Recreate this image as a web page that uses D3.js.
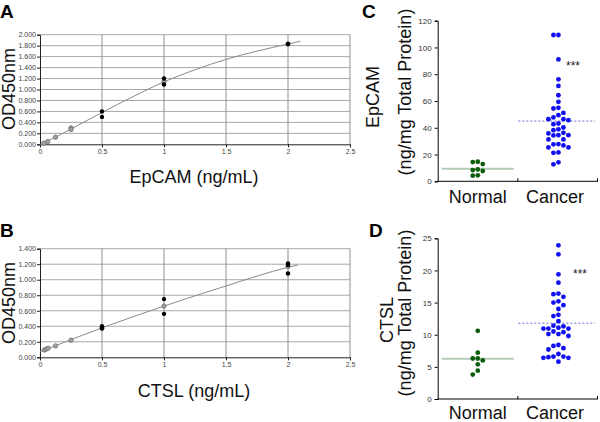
<!DOCTYPE html>
<html><head><meta charset="utf-8">
<script src="https://cdn.jsdelivr.net/npm/d3@7"></script>
<style>
html,body{margin:0;padding:0;background:#fff;}
svg{display:block;font-family:"Liberation Sans",Arial,sans-serif;}
svg text{font-family:"Liberation Sans",Arial,sans-serif;}
</style></head>
<body>
<svg id="chart" width="600" height="422"></svg>
<script>
// ---------------- DATA ----------------
// Panel A: EpCAM standard curve
const epcamTicksX = [0, 0.5, 1, 1.5, 2, 2.5];
const epcamTicksY = [0, 0.2, 0.4, 0.6, 0.8, 1.0, 1.2, 1.4, 1.6, 1.8, 2.0];
const epcamRepConc = [0.5, 0.5, 1, 1, 2];
const epcamRepOD   = [0.60, 0.50, 1.20, 1.09, 1.83];
const epcamStdConc = [0.03, 0.0625, 0.125, 0.25, 0.25, 1, 2];
const epcamStdOD   = [0.02, 0.05, 0.13, 0.30, 0.27, 1.14, 1.83];
const epcamFitConc = [0, 0.125, 0.25, 0.5, 0.75, 1, 1.25, 1.5, 1.75, 2, 2.1];
const epcamFitOD   = [0, 0.13, 0.28, 0.58, 0.87, 1.14, 1.36, 1.55, 1.70, 1.83, 1.88];

// Panel B: CTSL standard curve
const ctslTicksX = [0, 0.5, 1, 1.5, 2, 2.5];
const ctslTicksY = [0, 0.2, 0.4, 0.6, 0.8, 1.0, 1.2, 1.4];
const ctslRepConc = [0.5, 0.5, 1, 1, 2, 2, 2];
const ctslRepOD   = [0.40, 0.37, 0.75, 0.56, 1.21, 1.19, 1.08];
const ctslStdConc = [0.035, 0.05, 0.065, 0.125, 0.25, 0.5, 1, 2];
const ctslStdOD   = [0.095, 0.105, 0.117, 0.147, 0.22, 0.38, 0.66, 1.17];
const ctslFitConc = [0, 0.5, 1, 1.5, 2, 2.08];
const ctslFitOD   = [0.07, 0.38, 0.66, 0.92, 1.16, 1.19];

// Panel C: EpCAM tissue levels
const groups = ["Normal", "Cancer"];
const epcamNormal = [14.6, 14.4, 12.9, 8.4, 8.9, 7.7, 4.5, 4.2];
const epcamCancer = [109.3, 109.3, 91.1, 76.2, 71.3, 64.3, 59.4, 54.4, 54.9, 51.1,
  47.7, 49.4, 45.7, 46.4, 46.4, 42.7, 43.2, 38.8, 38.2, 40.2, 35.8, 36.2,
  34.5, 34.3, 34.5, 31.3, 31.3, 27.6, 26.8, 27.8, 25.3, 25.3, 21.3, 21.6, 14.2, 12.7];
const epcamTicks = [0, 20, 40, 60, 80, 100, 120];

// Panel D: CTSL tissue levels
const ctslNormal = [10.6, 7.2, 6.3, 6.0, 6.3, 5.4, 4.4, 3.8];
const ctslCancer = [23.9, 22.5, 19.4, 18.1, 16.4, 16.3, 15.9, 15.2, 15.0, 14.6, 14.0,
  13.1, 12.9, 12.1, 11.4, 11.3, 11.1, 10.95, 10.95, 10.95, 10.4, 10.5, 10.1, 10.1, 9.8,
  8.25, 8.4, 7.9, 7.7, 7.0, 6.5, 6.4, 6.6, 6.4, 6.6, 5.8];
const ctslTicks = [0, 5, 10, 15, 20, 25];

// ---------------- DRAW ----------------
const FONT = "'Liberation Sans',Arial,sans-serif";
const svg = d3.select("#chart");
const fmt3 = d3.format(".3f");
const fmtX = d => d3.format("")(d);

function letter(t, x, y) {
  svg.append("text").attr("x", x).attr("y", y).attr("font-size", 19)
    .attr("font-family", FONT).attr("font-weight", "bold").attr("fill", "#000").text(t);
}

function stdCurve(opt) {
  const x = d3.scaleLinear().domain([0, 2.5]).range([40, 350]);
  const y = d3.scaleLinear().domain([0, opt.ymax]).range([opt.y0, opt.y1]);
  const g = svg.append("g");
  g.selectAll(".hg").data(opt.ticksY.filter(d => d > 0)).join("line")
    .attr("x1", x(0)).attr("x2", x(2.5)).attr("y1", d => y(d)).attr("y2", d => y(d))
    .attr("stroke", "#a8a8a8").attr("stroke-width", 1);
  g.selectAll(".vg").data(opt.ticksX.filter(d => d > 0)).join("line")
    .attr("x1", d => x(d)).attr("x2", d => x(d)).attr("y1", y(0)).attr("y2", y(opt.ymax))
    .attr("stroke", "#909090").attr("stroke-width", 1);
  const ax = g.append("g").attr("transform", `translate(0,${y(0)})`)
    .call(d3.axisBottom(x).tickValues(opt.ticksX).tickFormat(fmtX).tickSize(3).tickPadding(2));
  const ay = g.append("g").attr("transform", `translate(${x(0)},0)`)
    .call(d3.axisLeft(y).tickValues(opt.ticksY).tickFormat(fmt3).tickSize(3).tickPadding(1));
  [ax, ay].forEach(a => {
    a.select(".domain").attr("stroke", "#222");
    a.selectAll(".tick line").attr("stroke", "#222");
    a.selectAll("text").attr("font-size", 7).attr("fill", "#444").attr("font-family", FONT);
  });
  const line = d3.line().x(d => x(d[0])).y(d => y(d[1])).curve(d3.curveMonotoneX);
  g.append("path").datum(d3.zip(opt.fitC, opt.fitY)).attr("d", line)
    .attr("fill", "none").attr("stroke", "#8a8a8a").attr("stroke-width", 1);
  g.selectAll(".std").data(d3.zip(opt.stdC, opt.stdY)).join("circle")
    .attr("cx", d => x(d[0])).attr("cy", d => y(d[1])).attr("r", 2.2)
    .attr("fill", "#a0a0a0").attr("stroke", "#707070").attr("stroke-width", 0.8);
  g.selectAll(".rep").data(d3.zip(opt.repC, opt.repY)).join("circle")
    .attr("cx", d => x(d[0])).attr("cy", d => y(d[1])).attr("r", 2.2)
    .attr("fill", "#000");
  svg.append("text").attr("transform", `translate(15,${opt.yTitleC}) rotate(-90)`)
    .attr("text-anchor", "middle").attr("font-size", 18).attr("font-family", FONT)
    .attr("fill", "#111").text("OD450nm");
  svg.append("text").attr("x", 194).attr("y", opt.xTitleY).attr("text-anchor", "middle")
    .attr("font-size", 18).attr("font-family", FONT).attr("fill", "#111").text(opt.xTitle);
}

stdCurve({ymax: 2, y0: 144.3, y1: 34.7, ticksX: epcamTicksX, ticksY: epcamTicksY,
  repC: epcamRepConc, repY: epcamRepOD, stdC: epcamStdConc, stdY: epcamStdOD,
  fitC: epcamFitConc, fitY: epcamFitOD, yTitleC: 89, xTitle: "EpCAM (ng/mL)", xTitleY: 183});
stdCurve({ymax: 1.4, y0: 357.3, y1: 248.7, ticksX: ctslTicksX, ticksY: ctslTicksY,
  repC: ctslRepConc, repY: ctslRepOD, stdC: ctslStdConc, stdY: ctslStdOD,
  fitC: ctslFitConc, fitY: ctslFitOD, yTitleC: 303, xTitle: "CTSL (ng/mL)", xTitleY: 397});
letter("A", 0, 18);
letter("B", 0, 237);

// swarm layout: columns spaced `step` px, greedy from the top
function swarm(values, y, cx, step, thr) {
  const pts = values.map(v => ({v, y: y(v)})).sort((a, b) => a.y - b.y);
  const placed = [];
  const order = [0, -1, 1, -2, 2, -3, 3, -4, 4];
  pts.forEach(p => {
    for (const k of order) {
      if (!placed.some(q => q.k === k && Math.abs(q.y - p.y) < thr)) {
        p.k = k; placed.push(p); break;
      }
    }
  });
  placed.forEach(p => p.x = cx + p.k * step);
  return placed;
}

function dotPlot(opt) {
  const x = d3.scaleBand().domain(groups).range([437.7, 598]);
  const y = d3.scaleLinear().domain([0, opt.ymax]).range([opt.y0, opt.y1]);
  const g = svg.append("g");
  const ay = g.append("g").attr("transform", `translate(437.7,0)`)
    .call(d3.axisLeft(y).tickValues(opt.ticks).tickSize(3).tickPadding(3));
  ay.select(".domain").attr("stroke", "#000");
  ay.selectAll(".tick line").attr("stroke", "#000");
  ay.selectAll("text").attr("font-size", 8).attr("fill", "#333").attr("font-family", FONT);
  g.append("line").attr("x1", 437.7).attr("x2", 598).attr("y1", y(0)).attr("y2", y(0))
    .attr("stroke", "#000");
  g.selectAll(".xt").data([x.bandwidth() + 437.7, 597.5]).join("line")
    .attr("x1", d => d).attr("x2", d => d).attr("y1", y(0)).attr("y2", y(0) - 3)
    .attr("stroke", "#000");
  g.selectAll(".xl").data(groups).join("text")
    .attr("x", d => x(d) + x.bandwidth() / 2 + (d === "Cancer" ? -3 : 0))
    .attr("y", opt.labY).attr("text-anchor", "middle").attr("font-size", 18)
    .attr("font-family", FONT).attr("fill", "#111").text(d => d);
  const cN = x("Normal") + x.bandwidth() / 2, cC = x("Cancer") + x.bandwidth() / 2;
  g.append("line").attr("x1", x("Normal") + 4).attr("x2", x("Normal") + x.bandwidth() - 4)
    .attr("y1", y(d3.mean(opt.normal))).attr("y2", y(d3.mean(opt.normal)))
    .attr("stroke", "#b3cbb8").attr("stroke-width", 2);
  g.append("line").attr("x1", x("Cancer") + 0.5).attr("x2", x("Cancer") + x.bandwidth() - 3)
    .attr("y1", y(d3.mean(opt.cancer))).attr("y2", y(d3.mean(opt.cancer)))
    .attr("stroke", "#6a6ad8").attr("stroke-width", 1).attr("stroke-dasharray", "2,2");
  g.selectAll(".n").data(swarm(opt.normal, y, cN, 5, 5.2)).join("circle")
    .attr("cx", d => d.x).attr("cy", d => d.y).attr("r", 2.4).attr("fill", "#0b5d0b");
  g.selectAll(".c").data(swarm(opt.cancer, y, cC + 0.5, 5, 5.2)).join("circle")
    .attr("cx", d => d.x).attr("cy", d => d.y).attr("r", 2.4).attr("fill", "#1010f0");
  g.append("text").attr("x", opt.starX).attr("y", opt.starY).attr("font-size", 12)
    .attr("font-family", FONT).attr("fill", "#222").text("***");
  svg.append("text").attr("transform", `translate(${opt.t1x},${opt.t1y}) rotate(-90)`)
    .attr("text-anchor", "middle").attr("font-size", 18).attr("font-family", FONT)
    .attr("fill", "#111").text(opt.title);
  svg.append("text").attr("transform", `translate(411,${opt.t2y}) rotate(-90)`)
    .attr("text-anchor", "middle").attr("font-size", 18).attr("font-family", FONT)
    .attr("fill", "#111").text("(ng/mg Total Protein)");
}

dotPlot({ymax: 120, y0: 181.3, y1: 20.7, ticks: epcamTicks, normal: epcamNormal,
  cancer: epcamCancer, labY: 203, starX: 566, starY: 70, title: "EpCAM",
  t1x: 379, t1y: 97, t2y: 92});
dotPlot({ymax: 25, y0: 399, y1: 238.3, ticks: ctslTicks, normal: ctslNormal,
  cancer: ctslCancer, labY: 419, starX: 573, starY: 278, title: "CTSL",
  t1x: 393, t1y: 320, t2y: 313});
letter("C", 362, 18);
letter("D", 369, 237);
</script>
</body></html>
